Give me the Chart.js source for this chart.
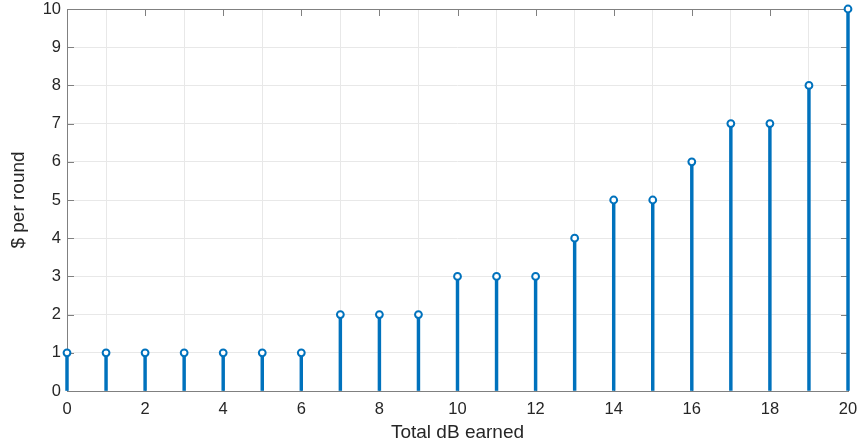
<!DOCTYPE html>
<html>
<head>
<meta charset="utf-8">
<script src="https://cdn.jsdelivr.net/npm/chart.js@4/dist/chart.umd.min.js"></script>
<style>
  html, body { margin: 0; padding: 0; background: #fff; }
  #wrap { width: 860px; height: 448px; }
</style>
</head>
<body>
<div id="wrap"><canvas id="c" width="860" height="448"></canvas></div>
<script>
// Payout per round for each total dB earned
const dbEarned = [0, 1, 2, 3, 4, 5, 6, 7, 8, 9, 10, 11, 12, 13, 14, 15, 16, 17, 18, 19, 20];
const dollarsPerRound = [1, 1, 1, 1, 1, 1, 1, 2, 2, 2, 3, 3, 3, 4, 5, 5, 6, 7, 7, 8, 10];
const xTicks = [0, 2, 4, 6, 8, 10, 12, 14, 16, 18, 20];
const yTicks = [0, 1, 2, 3, 4, 5, 6, 7, 8, 9, 10];

const stemColor = '#0072BD';
const axisColor = '#808080';
const textColor = '#262626';
const fontFamily = 'Helvetica, Arial, "Liberation Sans", sans-serif';

const points = dbEarned.map((x, i) => ({ x: x, y: dollarsPerRound[i] }));

// Box around the axes with short inward tick marks on all four sides
const boxPlugin = {
  id: 'boxTicks',
  beforeDatasetsDraw(chart) {
    const { ctx, chartArea: a, scales } = chart;
    const len = 7;
    ctx.save();
    ctx.strokeStyle = axisColor;
    ctx.lineWidth = 1;
    ctx.beginPath();
    xTicks.forEach(v => {
      const px = Math.round(scales.x.getPixelForValue(v)) + 0.5;
      ctx.moveTo(px, a.bottom); ctx.lineTo(px, a.bottom - len);
      ctx.moveTo(px, a.top); ctx.lineTo(px, a.top + len);
    });
    yTicks.forEach(v => {
      const py = Math.round(scales.y.getPixelForValue(v)) + 0.5;
      ctx.moveTo(a.left, py); ctx.lineTo(a.left + len, py);
      ctx.moveTo(a.right, py); ctx.lineTo(a.right - len, py);
    });
    ctx.stroke();
    ctx.strokeRect(Math.round(a.left) + 0.5, Math.round(a.top) + 0.5,
                   Math.round(a.right - a.left), Math.round(a.bottom - a.top));
    ctx.restore();
  }
};

new Chart(document.getElementById('c'), {
  data: {
    datasets: [
      {
        type: 'bar',
        data: points,
        backgroundColor: stemColor,
        borderWidth: 0,
        barThickness: 2.8,
        clip: false,
        order: 2
      },
      {
        type: 'scatter',
        data: points,
        pointStyle: 'circle',
        pointRadius: 3.4,
        pointBorderWidth: 2,
        pointBackgroundColor: '#ffffff',
        pointBorderColor: stemColor,
        clip: false,
        order: 1
      }
    ]
  },
  options: {
    responsive: false,
    animation: false,
    layout: { padding: { left: 0, right: 12, top: 9, bottom: 0 } },
    plugins: { legend: { display: false }, tooltip: { enabled: false } },
    scales: {
      x: {
        type: 'linear',
        min: 0, max: 20,
        offset: false,
        afterBuildTicks(scale) { scale.ticks = xTicks.map(v => ({ value: v })); },
        afterFit(scale) {
          scale.height = 57;
          scale.paddingLeft = 0;
          scale.paddingRight = 0;
        },
        grid: { color: '#e8e8e8', drawTicks: false },
        border: { display: false },
        ticks: {
          padding: 9,
          color: textColor,
          maxRotation: 0,
          font: { family: fontFamily, size: 16.5 }
        },
        title: {
          display: true,
          text: 'Total dB earned',
          color: textColor,
          font: { family: fontFamily, size: 19 },
          padding: { top: 0, bottom: 4 }
        }
      },
      y: {
        type: 'linear',
        min: 0, max: 10,
        afterBuildTicks(scale) { scale.ticks = yTicks.map(v => ({ value: v })); },
        afterFit(scale) {
          scale.width = 67;
          scale.paddingTop = 0;
          scale.paddingBottom = 0;
        },
        grid: { color: '#e8e8e8', drawTicks: false },
        border: { display: false },
        ticks: {
          padding: 6,
          color: textColor,
          font: { family: fontFamily, size: 16.5 }
        },
        title: {
          display: true,
          text: '$ per round',
          color: textColor,
          font: { family: fontFamily, size: 19 },
          padding: { top: 7, bottom: 0 }
        }
      }
    }
  },
  plugins: [boxPlugin]
});
</script>
</body>
</html>
